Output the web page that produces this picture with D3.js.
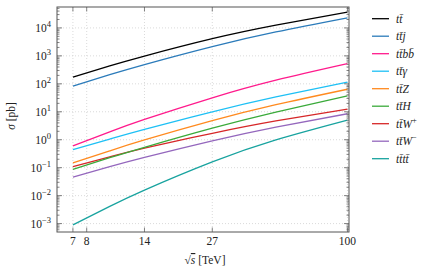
<!DOCTYPE html>
<html>
<head>
<meta charset="UTF-8">
<script src="https://d3js.org/d3.v7.min.js"></script>
<style>
  body { margin: 0; background: #fff; }
  text { font-family: 'Liberation Serif', 'DejaVu Serif', serif; fill: #222; }
  .grid { stroke: #d0d0d0; stroke-width: 0.8; stroke-dasharray: 1,2; }
  .tick { stroke: #666; stroke-width: 0.8; }
  .series { fill: none; stroke-width: 1.3; }
</style>
</head>
<body>
<svg id="chart" width="433" height="278"></svg>
<script>
// sqrt(s) in TeV
const sqrtS = [7, 10, 14, 27, 50, 100];

// cross sections in pb
const ttbar = [174, 436, 980, 4100, 12500, 37000];
const ttj   = [83, 212, 489, 2150, 7200, 23000];
const ttbb  = [0.6, 1.9, 5.3, 31.6, 135, 525];
const tta   = [0.44, 1.06, 2.36, 10, 34, 115];
const ttZ   = [0.148, 0.40, 0.98, 4.8, 17.9, 64];
const ttH   = [0.087, 0.227, 0.537, 2.6, 9.8, 37];
const ttWp  = [0.11, 0.245, 0.5, 1.7, 4.7, 12.5];
const ttWm  = [0.046, 0.108, 0.232, 0.91, 2.83, 8.5];
const tttt  = [0.0009, 0.0041, 0.0157, 0.16, 0.98, 5.0];

const xTicks = [7, 8, 14, 27, 100];
const yExps = [-3, -2, -1, 0, 1, 2, 3, 4];

// legend label pieces: [text, isSuperscript]
const series = [
  { name: "ttbar", values: ttbar, color: "#000000", label: [["tt\u0304", 0]] },
  { name: "ttj",   values: ttj,   color: "#2b7bba", label: [["tt\u0304j", 0]] },
  { name: "ttbb",  values: ttbb,  color: "#ff1a8c", label: [["tt\u0304bb\u0304", 0]] },
  { name: "tta",   values: tta,   color: "#1ec0f5", label: [["tt\u0304\u03b3", 0]] },
  { name: "ttZ",   values: ttZ,   color: "#ff8a1f", label: [["tt\u0304Z", 0]] },
  { name: "ttH",   values: ttH,   color: "#3aaa3a", label: [["tt\u0304H", 0]] },
  { name: "ttWp",  values: ttWp,  color: "#d62728", label: [["tt\u0304W", 0], ["+", 1]] },
  { name: "ttWm",  values: ttWm,  color: "#9467bd", label: [["tt\u0304W", 0], ["\u2212", 1]] },
  { name: "tttt",  values: tttt,  color: "#18a39f", label: [["tt\u0304tt\u0304", 0]] }
];

const svg = d3.select("#chart");
const pLeft = 57, pRight = 349, pTop = 7, pBottom = 232;

const x = d3.scaleLog().domain([6, 101.5]).range([pLeft, pRight]);
const y = d3.scaleLog().domain([5e-4, 5.6e4]).range([pBottom, pTop]);

// grid
svg.selectAll(".gx").data(xTicks).enter().append("line")
  .attr("class", "grid")
  .attr("x1", d => x(d)).attr("x2", d => x(d))
  .attr("y1", pTop).attr("y2", pBottom);
svg.selectAll(".gy").data(yExps).enter().append("line")
  .attr("class", "grid")
  .attr("x1", pLeft).attr("x2", pRight)
  .attr("y1", d => y(Math.pow(10, d))).attr("y2", d => y(Math.pow(10, d)));

// curves
const line = d3.line()
  .x((d, i) => x(sqrtS[i]))
  .y(d => y(d))
  .curve(d3.curveNatural);

series.slice().reverse().forEach(s => {
  svg.append("path")
    .attr("class", "series")
    .attr("stroke", s.color)
    .attr("d", line(s.values));
});

// y ticks, major and minor, both sides
const minor = [];
for (let e = -4; e <= 4; e++) {
  for (let m = 2; m <= 9; m++) {
    const v = m * Math.pow(10, e);
    if (v > y.domain()[0] && v < y.domain()[1]) minor.push(v);
  }
}
[[pLeft, 1], [pRight, -1]].forEach(([x0, dir]) => {
  svg.selectAll(null).data(minor).enter().append("line")
    .attr("class", "tick")
    .attr("x1", x0).attr("x2", x0 + dir * 2.5)
    .attr("y1", d => y(d)).attr("y2", d => y(d));
  svg.selectAll(null).data(yExps).enter().append("line")
    .attr("class", "tick")
    .attr("x1", x0).attr("x2", x0 + dir * 5)
    .attr("y1", d => y(Math.pow(10, d))).attr("y2", d => y(Math.pow(10, d)));
});

// x ticks top and bottom
[[pBottom, -1], [pTop, 1]].forEach(([y0, dir]) => {
  svg.selectAll(null).data(xTicks).enter().append("line")
    .attr("class", "tick")
    .attr("x1", d => x(d)).attr("x2", d => x(d))
    .attr("y1", y0).attr("y2", y0 + dir * 4.5);
});

// frame
svg.append("rect")
  .attr("x", pLeft).attr("y", pTop)
  .attr("width", pRight - pLeft).attr("height", pBottom - pTop)
  .attr("fill", "none").attr("stroke", "#555").attr("stroke-width", 1);

// y tick labels
const yl = svg.selectAll(".yl").data(yExps).enter().append("text")
  .attr("x", 51)
  .attr("y", d => y(Math.pow(10, d)) + 4)
  .attr("text-anchor", "end")
  .attr("font-size", 11.5);
yl.append("tspan").text("10");
yl.append("tspan")
  .attr("dy", -5)
  .attr("font-size", 8.5)
  .text(d => d < 0 ? "\u2212" + (-d) : d);

// x tick labels
svg.selectAll(".xl").data(xTicks).enter().append("text")
  .attr("x", d => x(d))
  .attr("y", 245)
  .attr("text-anchor", "middle")
  .attr("font-size", 11.5)
  .text(d => d);

// axis titles
const xt = svg.append("text")
  .attr("x", 205).attr("y", 264)
  .attr("text-anchor", "middle")
  .attr("font-size", 11.5);
xt.append("tspan").text("\u221a");
xt.append("tspan").attr("font-style", "italic").attr("text-decoration", "overline").text("s");
xt.append("tspan").text(" [TeV]");

const yt = svg.append("text")
  .attr("transform", "translate(15,116) rotate(-90)")
  .attr("text-anchor", "middle")
  .attr("font-size", 11.5);
yt.append("tspan").attr("font-style", "italic").text("\u03c3");
yt.append("tspan").text(" [pb]");

// legend
const leg = svg.selectAll(".leg").data(series).enter().append("g")
  .attr("transform", (d, i) => `translate(372,${18.7 + i * 17.5})`);
leg.append("line")
  .attr("x1", 0).attr("x2", 17)
  .attr("stroke", d => d.color).attr("stroke-width", 1.3);
const lt = leg.append("text")
  .attr("x", 24).attr("y", 4)
  .attr("font-size", 11.5)
  .attr("font-style", "italic");
lt.each(function(d) {
  const t = d3.select(this);
  d.label.forEach(([str, sup]) => {
    const sp = t.append("tspan").text(str);
    if (sup) sp.attr("dy", -5).attr("font-size", 8.5).attr("font-style", "normal");
  });
});
</script>
</body>
</html>
